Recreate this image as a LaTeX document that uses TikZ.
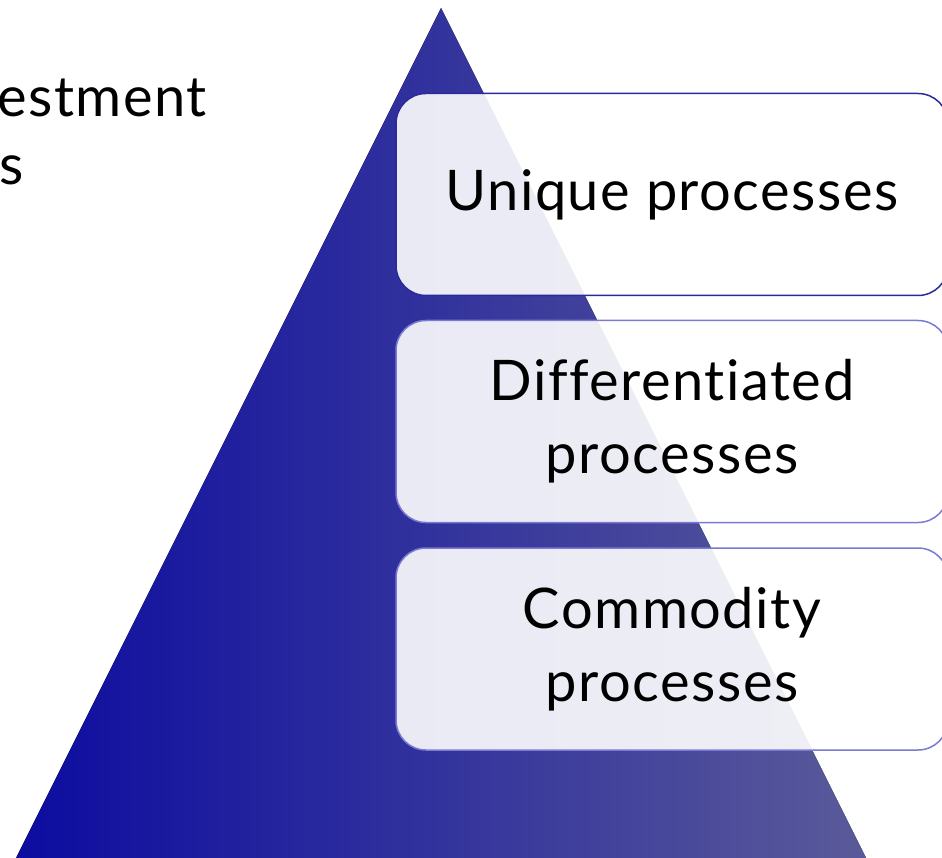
\documentclass[tikz,border=0pt]{standalone}
\usepackage{fontspec}
\setmainfont{Lato}[Ligatures=NoCommon, LetterSpace=2.7]
\definecolor{triL}{HTML}{0C0CA0}
\definecolor{triM}{HTML}{42429E}
\definecolor{triR}{HTML}{5A5A9A}
\definecolor{edgeDark}{HTML}{2A2A9A}
\definecolor{edgeLight}{HTML}{7A7AD2}
\tikzset{
  box/.style={rounded corners=30pt, fill=white, fill opacity=0.9, text opacity=1,
    line width=1.5pt, minimum width=552pt, minimum height=202pt, align=center,
    font=\fontsize{56}{73}\selectfont, inner sep=0pt},
  lefttext/.style={anchor=base west, inner sep=0pt, font=\fontsize{56}{73}\selectfont}
}
\begin{document}
\begin{tikzpicture}[x=1pt,y=-1pt]
\useasboundingbox (0,0) rectangle (942,858);
\clip (0,0) rectangle (942,858);
\fill[white] (0,0) rectangle (942,858);
\fill[left color=triL, middle color=triM, right color=triR] (441,8) -- (16,858) -- (866,858) -- cycle;
\node[lefttext] (t1) at (-3,117) {estment};
\node[lefttext] (t2) at (-1,185) {s};
\node[box, draw=edgeDark] (u) at (672,194.5) {Unique processes};
\node[box, draw=edgeLight] (d) at (672,421.5) {Differentiated\\processes};
\node[box, draw=edgeLight] (c) at (672,649) {Commodity\\processes};
\end{tikzpicture}
\end{document}
